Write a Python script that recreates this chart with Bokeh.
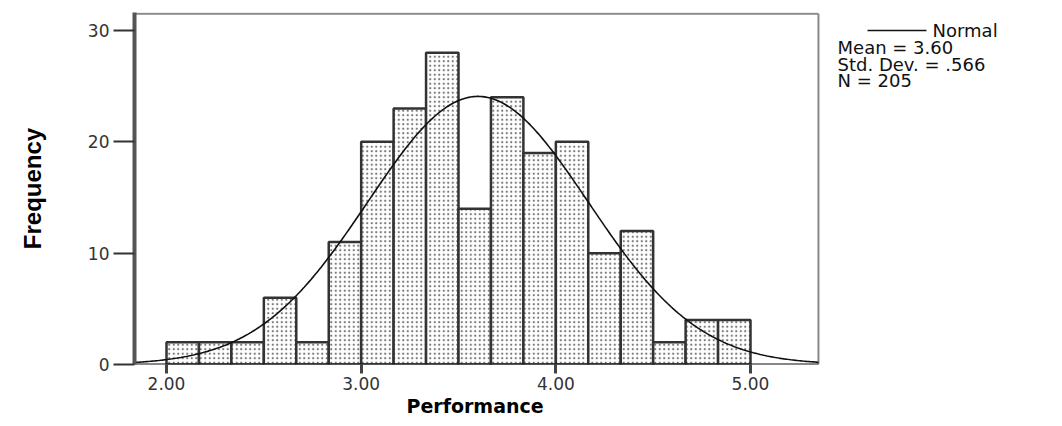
import numpy as np
from bokeh.plotting import figure
from bokeh.models import Range1d, FixedTicker, Label, Title, ColumnDataSource
from bokeh.embed import file_html
from bokeh.resources import INLINE

# ---- data ----
counts = [2, 2, 2, 6, 2, 11, 20, 23, 28, 14, 24, 19, 20, 10, 12, 2, 4, 4]
bin_start = 2.0
bin_width = 1.0 / 6.0
mean = 3.60
std_dev = 0.566
n_obs = 205
x_ticks = [2.0, 3.0, 4.0, 5.0]
x_tick_labels = ["2.00", "3.00", "4.00", "5.00"]
y_ticks = [0, 10, 20, 30]
legend_lines = ["Mean = 3.60", "Std. Dev. = .566", "N = 205"]

lefts = [bin_start + i * bin_width for i in range(len(counts))]
rights = [l + bin_width for l in lefts]

# axis extents of the histogram box
box_x0, box_x1 = 1.8356, 5.349
box_y0, box_y1 = 0.0, 31.5
# drawing area continues to the right so that the legend texts fit
view_x1 = 6.5205
view_y1 = 31.62

p = figure(width=1046, height=418, output_backend="svg", toolbar_location=None,
           x_range=Range1d(box_x0, view_x1), y_range=Range1d(box_y0, view_y1),
           min_border_left=134, min_border_right=0, min_border_top=12, min_border_bottom=54)
p.background_fill_color = "white"
p.border_fill_color = "white"
p.grid.visible = False
p.outline_line_color = None

# histogram box: top and right edges
p.segment(x0=[box_x0, box_x1], y0=[box_y1, box_y0], x1=[box_x1, box_x1], y1=[box_y1, box_y1],
          line_color="#888888", line_width=2)

src = ColumnDataSource(dict(left=lefts, right=rights, top=counts, bottom=[0] * len(counts)))
p.quad(left="left", right="right", top="top", bottom="bottom", source=src,
       fill_color="white", line_color="#333333", line_width=2.5,
       hatch_pattern="dot", hatch_scale=4.5, hatch_weight=1.4, hatch_color="#777777")

# baseline
p.segment(x0=[box_x0], y0=[box_y0], x1=[box_x1], y1=[box_y0], line_color="#111111", line_width=2)

# normal curve from the stated parameters
xs = np.linspace(box_x0, box_x1, 400)
ys = n_obs * bin_width * np.exp(-0.5 * ((xs - mean) / std_dev) ** 2) / (std_dev * np.sqrt(2 * np.pi))
p.line(xs, ys, line_color="#111111", line_width=1.6)

tick_font = "DejaVu Sans"

# x axis
xa = p.xaxis[0]
xa.ticker = FixedTicker(ticks=x_ticks)
xa.major_label_overrides = {t: l for t, l in zip(x_ticks, x_tick_labels)}
xa.minor_tick_line_color = None
xa.major_tick_out = 9
xa.major_tick_in = 0
xa.major_tick_line_width = 3
xa.major_tick_line_color = "#444444"
xa.axis_line_color = None
xa.major_label_text_font = tick_font
xa.major_label_text_font_size = "17px"
xa.major_label_text_color = "#333333"
xa.major_label_standoff = 3

# y axis
ya = p.yaxis[0]
ya.ticker = FixedTicker(ticks=y_ticks)
ya.minor_tick_line_color = None
ya.major_tick_out = 21
ya.major_tick_in = 0
ya.major_tick_line_width = 2
ya.major_tick_line_color = "#333333"
ya.axis_line_color = "#555555"
ya.axis_line_width = 4
ya.major_label_text_font = tick_font
ya.major_label_text_font_size = "17px"
ya.major_label_text_color = "#333333"
ya.major_label_standoff = 4
ya.axis_label = "Frequency"
ya.axis_label_text_font = "Liberation Sans"
ya.axis_label_text_font_style = "bold"
ya.axis_label_text_font_size = "24px"
ya.axis_label_text_color = "#000000"
ya.axis_label_standoff = 39

# x axis title, centred under the histogram box
p.add_layout(Title(text="Performance", align="left", offset=272, standoff=0,
                   text_font="DejaVu Sans", text_font_style="bold",
                   text_font_size="19px", text_color="#000000"), "below")

# legend block at right
p.segment(x0=[5.601], y0=[30.0], x1=[5.904], y1=[30.0], line_color="#111111", line_width=1.5)
p.add_layout(Label(x=5.935, y=30.0, text="Normal", text_align="left", text_baseline="middle",
                   text_font="DejaVu Sans", text_font_size="18px", text_color="#111111"))
for i, t in enumerate(legend_lines):
    p.add_layout(Label(x=5.447, y=28.47 - i * 1.49, text=t, text_align="left",
                       text_baseline="middle", text_font="DejaVu Sans",
                       text_font_size="18px", text_color="#111111"))

open("out.html", "w").write(file_html(p, INLINE))
